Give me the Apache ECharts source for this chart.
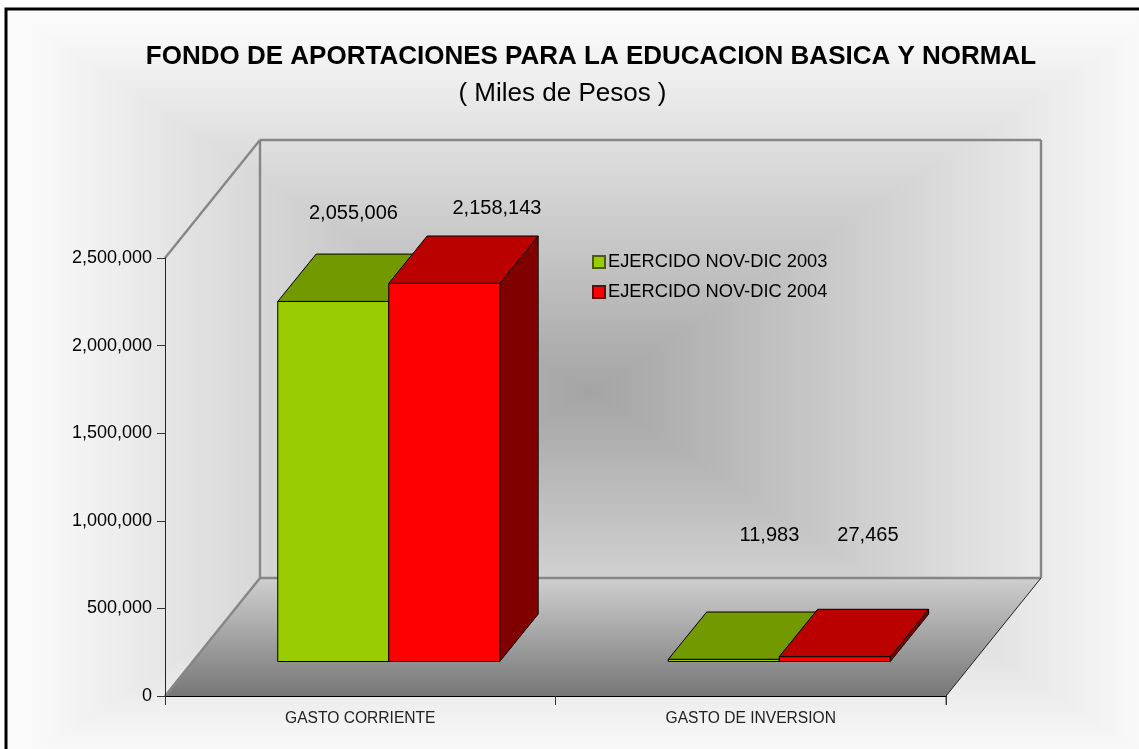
<!DOCTYPE html>
<html>
<head>
<meta charset="utf-8">
<style>html,body{margin:0;padding:0;background:#fff;overflow:hidden}#c{width:1139px;height:749px}</style>
<script src="https://cdn.jsdelivr.net/npm/echarts@6/dist/echarts.min.js"></script>
</head>
<body>
<div id="c"></div>
<script>
const categories = ['GASTO CORRIENTE', 'GASTO DE INVERSION'];
const ejercido2003 = [2055006, 11983];
const ejercido2004 = [2158143, 27465];
const seriesNames = ['EJERCIDO NOV-DIC 2003', 'EJERCIDO NOV-DIC 2004'];
const yTicks = {min: 0, max: 2500000, interval: 500000};

// layout and styling constants
const FONT = '"Liberation Sans", Arial, sans-serif';
const WALL = {dx: 95, dy: 118};
const BAR = {widthRatio: 111 / 390.5, offX: 28.5, offY: 34.5, dx: 38.4, dy: 47.4};
const faces = [
  {front: '#99CC00', top: '#729900', side: '#4C6600'},
  {front: '#FF0000', top: '#BB0000', side: '#800000'}
];
const labelShift = [
  [[1, -41], [26.5, -77]],
  [[33.5, -28], [14, -74]]
];

const chart = echarts.init(document.getElementById('c'), null, {renderer: 'canvas'});

function poly(points, style, z2) {
  return {type: 'polygon', shape: {points}, style, z2: z2 || 0};
}

function renderWalls(params, api) {
  const c = params.coordSys;
  const L = c.x, R = c.x + c.width, T = c.y, B = c.y + c.height;
  const d = WALL, grey = {stroke: '#868686', lineWidth: 2.4, fill: null};
  const line = (a, b, st, z2) => ({type: 'line', shape: {x1: a[0], y1: a[1], x2: b[0], y2: b[1]}, style: st, z2: z2 || 1});
  return {type: 'group', children: [
    poly([[L, B], [R, B], [R + d.dx, B - d.dy], [L + d.dx, B - d.dy]], {
      fill: new echarts.graphic.LinearGradient(0, 0, 0, 1, [
        {offset: 0, color: '#CFCFCF'}, {offset: 1, color: '#777777'}
      ])
    }),
    line([L, T], [L + d.dx, T - d.dy], grey),
    line([L + d.dx, T - d.dy], [R + d.dx, T - d.dy], grey),
    line([L + d.dx, T - d.dy], [L + d.dx, B - d.dy], grey),
    line([R + d.dx, T - d.dy], [R + d.dx, B - d.dy], grey),
    line([L + d.dx, B - d.dy], [R + d.dx, B - d.dy], grey),
    line([L, B], [L + d.dx, B - d.dy], grey),
    line([R, B], [R + d.dx, B - d.dy], {stroke: '#222', lineWidth: 1}),
    line([R, B], [R, B + 9], {stroke: '#555', lineWidth: 1})
  ]};
}

function makeBarRenderer(seriesIdx) {
  return function (params, api) {
    const cat = api.value(0), val = api.value(1);
    const center = api.coord([cat, 0]);
    const h = center[1] - api.coord([cat, val])[1];
    const w = api.size([1, 0])[0] * BAR.widthRatio;
    const x0 = center[0] + BAR.offX - w + seriesIdx * w;
    const x1 = x0 + w;
    const yb = center[1] - BAR.offY;
    const yt = yb - h;
    const f = faces[seriesIdx], dx = BAR.dx, dy = BAR.dy;
    const edge = {stroke: '#000', lineWidth: 1, lineJoin: 'round'};
    const shift = labelShift[seriesIdx][cat];
    return {type: 'group', children: [
      poly([[x1, yb], [x1 + dx, yb - dy], [x1 + dx, yt - dy], [x1, yt]], Object.assign({fill: f.side}, edge)),
      poly([[x0, yt], [x1, yt], [x1 + dx, yt - dy], [x0 + dx, yt - dy]], Object.assign({fill: f.top}, edge)),
      poly([[x0, yb], [x1, yb], [x1, yt], [x0, yt]], Object.assign({fill: f.front}, edge)),
      {type: 'text', x: x0 + w / 2 + dx / 2 + shift[0], y: yt - dy + shift[1], z2: 5,
       style: {text: val.toLocaleString('en-US'), fill: '#000', font: '20px ' + FONT, align: 'center', verticalAlign: 'middle'}}
    ]};
  };
}

function toData(arr) { return arr.map((v, i) => [i, v]); }

const frame = {l: 6, t: 9, r: 1172, b: 772};
const mid = [590, 392];
const STOPS = [{offset: 0, color: '#FBFBFB'}, {offset: 0.07, color: '#F8F8F8'}, {offset: 1, color: '#A4A4A4'}];
const tl = [frame.l, frame.t], tr = [frame.r, frame.t], br = [frame.r, frame.b], bl = [frame.l, frame.b];
function bgFill(x1, y1, x2, y2) {
  return new echarts.graphic.LinearGradient(x1, y1, x2, y2, STOPS, true);
}

chart.setOption({
  animation: false,
  backgroundColor: '#fff',
  graphic: {elements: [
    // top and bottom halves lie under the side triangles, so no light seam shows on the diagonals
    {type: 'rect', silent: true, z: -12, shape: {x: frame.l, y: frame.t, width: frame.r - frame.l, height: mid[1] - frame.t},
     style: {fill: bgFill(0, frame.t, 0, mid[1])}},
    {type: 'rect', silent: true, z: -12, shape: {x: frame.l, y: mid[1], width: frame.r - frame.l, height: frame.b - mid[1]},
     style: {fill: bgFill(0, frame.b, 0, mid[1])}},
    {type: 'polygon', silent: true, z: -11, shape: {points: [tl, bl, mid]}, style: {fill: bgFill(frame.l, 0, mid[0], 0)}},
    {type: 'polygon', silent: true, z: -11, shape: {points: [tr, br, mid]}, style: {fill: bgFill(frame.r, 0, mid[0], 0)}},
    {type: 'rect', silent: true, z: -9, shape: {x: frame.l, y: frame.t, width: frame.r - frame.l, height: frame.b - frame.t},
     style: {fill: null, stroke: '#000', lineWidth: 3}}
  ]},
  title: [
    {text: 'FONDO DE APORTACIONES PARA LA EDUCACION BASICA Y NORMAL', left: 586, top: 39, textAlign: 'center',
     textStyle: {fontFamily: FONT, fontSize: 26, fontWeight: 'bold', color: '#000'}},
    {text: '( Miles de Pesos )', left: 557.5, top: 76, textAlign: 'center',
     textStyle: {fontFamily: FONT, fontSize: 26, fontWeight: 'normal', color: '#000'}}
  ],
  legend: {
    show: true, orient: 'vertical', left: 592, top: 253, itemWidth: 12, itemHeight: 12, itemGap: 12, padding: 0,
    data: seriesNames, icon: 'rect', selectedMode: false,
    textStyle: {fontFamily: FONT, fontSize: 18.3, color: '#000', padding: [0, 0, 0, -2]}
  },
  grid: {left: 165, top: 258, width: 781, height: 438, containLabel: false},
  xAxis: {
    type: 'category', data: categories, z: 5,
    axisLine: {show: true, lineStyle: {color: '#000', width: 1}},
    axisTick: {show: true, length: 9, lineStyle: {color: '#333'}},
    axisLabel: {fontFamily: FONT, fontSize: 15.6, color: '#222', margin: 15},
    splitLine: {show: false}
  },
  yAxis: {
    type: 'value', min: yTicks.min, max: yTicks.max, interval: yTicks.interval, z: 5,
    axisLine: {show: true, lineStyle: {color: '#222', width: 1}},
    axisTick: {show: true, length: 8, lineStyle: {color: '#333'}},
    axisLabel: {fontFamily: FONT, fontSize: 18, color: '#000', margin: 13, padding: [2, 0, 0, 0],
      formatter: v => v.toLocaleString('en-US')},
    splitLine: {show: false}
  },
  series: [
    {type: 'custom', name: 'walls', z: 1, silent: true, data: [[0, 0]], renderItem: renderWalls, clip: false, legendHoverLink: false},
    {type: 'custom', name: seriesNames[0], z: 6, clip: false, data: toData(ejercido2003), renderItem: makeBarRenderer(0),
     itemStyle: {color: faces[0].front, borderColor: '#4d5a10', borderWidth: 1}},
    {type: 'custom', name: seriesNames[1], z: 7, clip: false, data: toData(ejercido2004), renderItem: makeBarRenderer(1),
     itemStyle: {color: faces[1].front, borderColor: '#5a1010', borderWidth: 1}}
  ]
});
</script>
</body>
</html>
